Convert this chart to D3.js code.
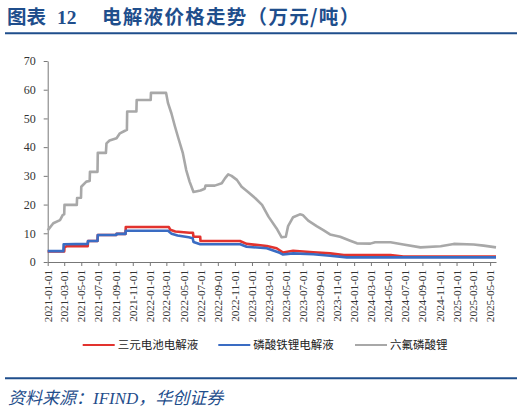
<!DOCTYPE html>
<html><head><meta charset="utf-8">
<script src="https://cdn.jsdelivr.net/npm/d3@7/dist/d3.min.js"></script>
<style>
html,body{margin:0;padding:0;background:#fff;}
svg{display:block;}
</style></head>
<body>
<svg id="c" width="524" height="413"></svg>
<script>
// ---- data ----
const seriesNames = ["三元电池电解液", "磷酸铁锂电解液", "六氟磷酸锂"];
const seriesColors = ["#e2332e", "#3a6cc3", "#a8a8a8"];
const yTicks = [0, 10, 20, 30, 40, 50, 60, 70];
const xTickStart = "2021-01-01", xTickEnd = "2025-05-01", xTickStepMonths = 2;
const dataEnd = "2025-05-22";

const ternary = [
  ["2021-01-01",3.7],["2021-03-01",3.7],["2021-03-02",5.2],["2021-03-10",5.5],
  ["2021-05-24",5.5],["2021-05-25",7.3],["2021-06-28",7.3],["2021-06-29",9.4],
  ["2021-09-03",9.4],["2021-09-04",9.8],["2021-10-06",9.8],["2021-10-07",12.2],
  ["2022-03-10",12.2],["2022-03-15",11.2],["2022-04-02",10.6],["2022-05-23",10.2],
  ["2022-06-04",10.2],["2022-06-06",8.8],["2022-06-30",8.8],["2022-07-01",7.3],
  ["2022-11-19",7.3],["2022-12-13",6.3],["2023-02-23",5.6],["2023-03-30",4.8],
  ["2023-04-22",3.3],["2023-05-28",3.9],["2023-08-08",3.4],["2023-10-07",3.0],
  ["2023-11-25",2.4],["2024-05-10",2.4],["2024-06-25",1.9],["2025-05-22",1.9]
];
const lfp = [
  ["2021-01-01",3.8],["2021-02-26",3.8],["2021-02-27",6.2],["2021-05-24",6.3],
  ["2021-05-25",7.3],["2021-06-28",7.3],["2021-06-29",9.4],["2021-09-03",9.4],
  ["2021-09-04",9.8],["2021-10-06",9.8],["2021-10-07",10.9],["2022-03-07",10.9],
  ["2022-03-20",9.8],["2022-04-10",9.2],["2022-05-20",8.6],["2022-06-03",8.3],
  ["2022-06-06",7.0],["2022-06-30",6.2],["2022-11-20",6.2],["2022-12-13",5.3],
  ["2023-02-23",4.8],["2023-04-10",3.2],["2023-04-22",2.6],["2023-05-28",3.0],
  ["2023-08-08",2.7],["2023-10-07",2.2],["2023-12-06",1.6],["2025-05-22",1.6]
];
const lipf6 = [
  ["2021-01-01",11.0],["2021-01-21",13.5],["2021-02-14",14.6],["2021-02-24",16.4],
  ["2021-03-01",16.6],["2021-03-02",19.9],["2021-04-15",19.9],["2021-04-16",22.3],
  ["2021-04-30",22.4],["2021-05-01",26.2],["2021-05-19",28.0],["2021-05-31",28.2],
  ["2021-06-01",31.4],["2021-06-28",31.4],["2021-06-29",38.0],["2021-07-28",38.0],
  ["2021-07-30",41.3],["2021-08-10",42.3],["2021-09-04",43.1],["2021-09-16",44.8],
  ["2021-10-04",45.7],["2021-10-11",46.0],["2021-10-12",52.4],["2021-11-14",52.4],
  ["2021-11-15",56.4],["2022-01-04",56.4],["2022-01-05",58.9],["2022-02-28",58.9],
  ["2022-03-07",55.3],["2022-03-19",51.8],["2022-04-01",47.1],["2022-04-13",43.1],
  ["2022-04-29",37.9],["2022-05-11",32.0],["2022-05-23",28.0],["2022-06-06",24.4],
  ["2022-07-01",24.9],["2022-07-16",25.5],["2022-07-19",26.6],["2022-08-21",26.6],
  ["2022-09-15",27.4],["2022-09-27",29.2],["2022-10-08",30.5],["2022-10-20",30.0],
  ["2022-11-08",28.6],["2022-11-25",26.2],["2022-12-19",24.3],["2023-01-13",22.2],
  ["2023-02-06",19.9],["2023-03-01",15.8],["2023-03-30",11.7],["2023-04-17",8.6],
  ["2023-05-02",8.8],["2023-05-10",12.5],["2023-05-28",15.6],["2023-06-21",16.6],
  ["2023-07-01",16.4],["2023-07-21",14.4],["2023-08-20",12.5],["2023-09-13",11.1],
  ["2023-10-07",9.6],["2023-11-12",8.8],["2023-12-18",7.4],["2024-01-11",6.5],
  ["2024-02-28",6.4],["2024-03-16",6.9],["2024-05-10",6.9],["2024-06-25",6.1],
  ["2024-08-25",5.1],["2024-11-05",5.5],["2024-12-22",6.3],["2025-03-03",6.1],
  ["2025-04-08",5.7],["2025-05-22",5.1]
];
const allSeries = [ternary, lfp, lipf6];

// ---- chart ----
const parse = d3.utcParse("%Y-%m-%d");
const svg = d3.select("#c");
const navy = "#1f4e8c";
const serif = "'Liberation Serif','Times New Roman',serif";
const cjk = "'Noto Sans CJK SC','Noto Sans',sans-serif";

// title
const title = svg.append("text").attr("y", 24).attr("fill", navy)
  .attr("font-family", cjk).attr("font-weight", "bold").attr("font-size", 19.5);
title.append("tspan").attr("x", 7).text("图表");
title.append("tspan").attr("x", 57).attr("font-family", serif).text("12");
title.append("tspan").attr("x", 102).attr("letter-spacing", 1.3).text("电解液价格走势（万元/吨）");
svg.append("line").attr("x1", 5).attr("x2", 517).attr("y1", 33.3).attr("y2", 33.3)
  .attr("stroke", navy).attr("stroke-width", 2);

const x = d3.scaleUtc().domain([parse(xTickStart), parse(dataEnd)]).range([47.7, 496]);
const y = d3.scaleLinear().domain([0, 70]).range([262, 61]);

const tickDates = d3.utcMonth.every(xTickStepMonths).range(parse(xTickStart), d3.utcDay.offset(parse(xTickEnd), 1));

// y axis
const yAxis = svg.append("g").attr("transform", "translate(47.7,0)")
  .call(d3.axisLeft(y).tickValues(yTicks).tickSize(4).tickPadding(8).tickSizeOuter(0));
yAxis.select(".domain").attr("stroke", "#777");
yAxis.selectAll(".tick line").attr("stroke", "#777");
yAxis.selectAll("text").attr("font-family", serif).attr("font-size", 12).attr("fill", "#333");

// x axis
const xAxis = svg.append("g").attr("transform", "translate(0,262)")
  .call(d3.axisBottom(x).tickValues(tickDates).tickSize(4).tickSizeOuter(0)
    .tickFormat(d3.utcFormat("%Y-%m-%d")));
xAxis.select(".domain").attr("stroke", "#777");
xAxis.selectAll(".tick line").attr("stroke", "#777");
xAxis.selectAll("text").attr("font-family", serif).attr("font-size", 11.2).attr("fill", "#333")
  .attr("text-anchor", "end").attr("dy", "0.32em")
  .attr("transform", "translate(0,4) rotate(-90)").attr("x", -4).attr("y", 0);

// lines
const line = d3.line().x(d => x(parse(d[0]))).y(d => y(d[1]));
[2, 0, 1].forEach(i => {
  svg.append("path").datum(allSeries[i]).attr("d", line)
    .attr("fill", "none").attr("stroke", seriesColors[i]).attr("stroke-width", 2.6)
    .attr("stroke-linejoin", "round");
});

// legend
const legX = [82.7, 218.3, 355];
seriesNames.forEach((n, i) => {
  const g = svg.append("g").attr("transform", `translate(${legX[i]},345)`);
  g.append("line").attr("x1", 0).attr("x2", 32).attr("stroke", seriesColors[i]).attr("stroke-width", 2);
  g.append("text").attr("x", 35).attr("dy", "0.36em").attr("font-family", cjk)
    .attr("font-size", 11.5).attr("fill", "#222").text(n);
});

// footer
svg.append("line").attr("x1", 5).attr("x2", 517).attr("y1", 378.3).attr("y2", 378.3)
  .attr("stroke", navy).attr("stroke-width", 2);
const src = svg.append("text").attr("x", 8).attr("y", 404).attr("fill", navy)
  .attr("font-family", cjk).attr("font-style", "italic").attr("font-size", 17);
src.append("tspan").text("资料来源：");
src.append("tspan").attr("font-family", serif).text("IFIND");
src.append("tspan").text("，华创证券");
</script>
</body></html>
